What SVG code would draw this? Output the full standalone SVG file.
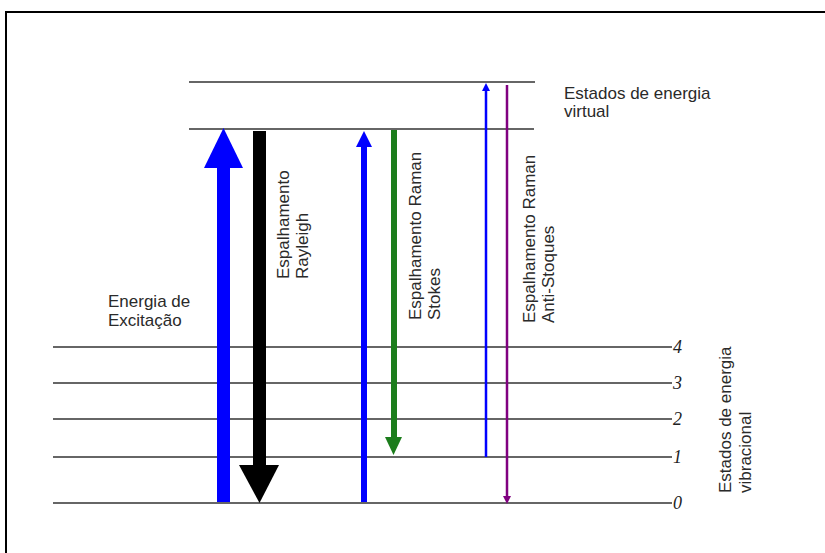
<svg xmlns="http://www.w3.org/2000/svg" width="825" height="553" viewBox="0 0 825 553">
<style>
.lvl{stroke:#333;stroke-width:1.4;fill:none}
.t{font-family:"Liberation Sans",Arial,sans-serif;font-size:17px;fill:#2a2a2a}
.n{font-family:"Liberation Serif","Times New Roman",serif;font-style:italic;font-size:18px;fill:#222}
</style>
<rect width="825" height="553" fill="#fff"/>
<g id="frame">
<path d="M6,553 V12 H825" fill="none" stroke="#000" stroke-width="2"/>
</g>
<g id="virtual-levels">
<line class="lvl" x1="189" y1="82" x2="535" y2="82"/>
<line class="lvl" x1="189" y1="129" x2="534" y2="129"/>
</g>
<g id="vibrational-levels">
<line class="lvl" x1="53" y1="347" x2="672" y2="347"/>
<line class="lvl" x1="53" y1="383" x2="672" y2="383"/>
<line class="lvl" x1="53" y1="419" x2="672" y2="419"/>
<line class="lvl" x1="53" y1="457" x2="672" y2="457"/>
<line class="lvl" x1="53" y1="503" x2="672" y2="503"/>
<text class="n" x="673" y="353">4</text>
<text class="n" x="673" y="389">3</text>
<text class="n" x="673" y="425">2</text>
<text class="n" x="673" y="463">1</text>
<text class="n" x="673" y="509">0</text>
</g>
<g id="connectors">
<g id="excitation">
<rect x="217" y="166" width="13" height="336" fill="#0000ff"/>
<polygon points="204,168 243,168 223.5,128" fill="#0000ff"/>
</g>
<g id="rayleigh">
<rect x="253" y="131" width="13" height="336" fill="#000"/>
<polygon points="239,465 279,465 259.5,503" fill="#000"/>
</g>
<g id="stokes-up">
<rect x="361" y="145" width="6" height="357" fill="#0000ff"/>
<polygon points="356,147 372,147 364,131" fill="#0000ff"/>
</g>
<g id="stokes-down">
<rect x="391" y="130" width="6" height="309" fill="#1c7d1c"/>
<polygon points="385,437 402,437 393.5,455" fill="#1c7d1c"/>
</g>
<g id="antistokes-up">
<line x1="486" y1="457" x2="486" y2="89" stroke="#0000ff" stroke-width="2.5"/>
<polygon points="482,91 490,91 486,83" fill="#0000ff"/>
</g>
<g id="antistokes-down">
<line x1="507" y1="85" x2="507" y2="498" stroke="#800080" stroke-width="2.5"/>
<polygon points="503,496 511,496 507,504" fill="#800080"/>
</g>
</g>
<g id="label-virtual">
<text class="t" x="564" y="99">Estados de energia</text>
<text class="t" x="564" y="117">virtual</text>
</g>
<g id="label-excitation">
<text class="t" x="108" y="307">Energia de</text>
<text class="t" x="108" y="326">Excitação</text>
</g>
<g id="label-rayleigh">
<text class="t" transform="translate(289,279) rotate(-90)">Espalhamento</text>
<text class="t" transform="translate(308,279) rotate(-90)">Rayleigh</text>
</g>
<g id="label-stokes">
<text class="t" transform="translate(421,320) rotate(-90)">Espalhamento Raman</text>
<text class="t" transform="translate(440,320) rotate(-90)">Stokes</text>
</g>
<g id="label-antistokes">
<text class="t" transform="translate(535,323) rotate(-90)">Espalhamento Raman</text>
<text class="t" transform="translate(554,323) rotate(-90)">Anti-Stoques</text>
</g>
<g id="label-vibrational">
<text class="t" transform="translate(731,493) rotate(-90)">Estados de energia</text>
<text class="t" transform="translate(751,493) rotate(-90)">vibracional</text>
</g>
</svg>
